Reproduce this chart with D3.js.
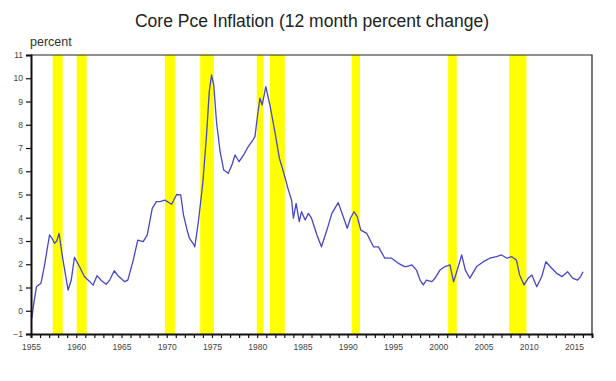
<!DOCTYPE html>
<html><head><meta charset="utf-8">
<script src="https://cdn.jsdelivr.net/npm/d3@7"></script>
<style>body{margin:0;background:#fff}svg{display:block}</style>
</head><body>
<svg id="c" width="616" height="381"></svg>
<script>
const title = "Core Pce Inflation (12 month percent change)";
const yLabel = "percent";
const yTicks = [-1,0,1,2,3,4,5,6,7,8,9,10,11];
const xTickLabels = [1955,1960,1965,1970,1975,1980,1985,1990,1995,2000,2005,2010,2015];
const recStart = [1957.4,1960.05,1969.8,1973.7,1979.95,1981.4,1990.45,2001.1,2007.85];
const recEnd   = [1958.5,1961.15,1970.9,1975.2,1980.65,1983.05,1991.35,2002.05,2009.75];
const years = [1955.0,1955.1,1955.3,1955.6,1956.1,1956.5,1957.05,1957.35,1957.6,1957.85,1958.1,1958.5,1959.1,1959.45,1959.8,1960.4,1960.9,1961.5,1961.85,1962.3,1962.8,1963.3,1963.7,1964.2,1964.7,1965.35,1965.7,1966.3,1966.8,1967.4,1967.85,1968.4,1968.85,1969.25,1969.8,1970.55,1971.1,1971.55,1971.85,1972.2,1972.5,1972.9,1973.1,1973.5,1974.0,1974.4,1974.7,1974.95,1975.2,1975.5,1975.9,1976.3,1976.8,1977.2,1977.55,1978.0,1978.5,1978.9,1979.4,1979.75,1980.0,1980.3,1980.55,1980.95,1981.4,1981.95,1982.45,1982.9,1983.45,1983.8,1984.0,1984.3,1984.65,1984.9,1985.3,1985.65,1986.0,1986.6,1987.1,1987.7,1988.25,1988.95,1989.5,1989.95,1990.3,1990.7,1991.05,1991.45,1992.1,1992.85,1993.4,1994.1,1994.85,1995.6,1996.3,1996.5,1997.1,1997.6,1998.0,1998.35,1998.7,1999.3,1999.65,2000.2,2000.75,2001.3,2001.7,2002.05,2002.6,2003.0,2003.5,2004.25,2005.0,2005.7,2006.45,2007.0,2007.6,2008.1,2008.65,2009.0,2009.5,2009.95,2010.35,2010.9,2011.45,2011.9,2012.55,2013.1,2013.7,2014.3,2014.85,2015.4,2015.75,2016.0];
const values = [-0.2,-0.3,0.3,1.03,1.18,1.97,3.26,3.1,2.9,3.0,3.33,2.26,0.89,1.32,2.3,1.87,1.47,1.25,1.1,1.51,1.29,1.14,1.32,1.72,1.47,1.25,1.32,2.18,3.04,2.97,3.26,4.4,4.69,4.69,4.76,4.58,5.0,4.98,4.12,3.55,3.12,2.9,2.75,3.83,5.55,7.56,9.42,10.14,9.71,8.13,6.84,6.05,5.91,6.27,6.7,6.41,6.7,6.99,7.27,7.49,8.28,9.14,8.85,9.64,8.85,7.7,6.56,5.98,5.19,4.76,3.98,4.62,3.83,4.26,3.9,4.19,3.98,3.26,2.75,3.47,4.19,4.65,4.05,3.55,3.98,4.26,4.05,3.47,3.33,2.75,2.75,2.26,2.26,2.04,1.9,1.9,1.97,1.75,1.32,1.11,1.32,1.25,1.4,1.75,1.9,1.97,1.25,1.68,2.4,1.75,1.4,1.9,2.11,2.26,2.33,2.4,2.26,2.33,2.18,1.54,1.11,1.4,1.54,1.03,1.47,2.11,1.83,1.61,1.47,1.68,1.4,1.32,1.47,1.68];

const svg = d3.select("#c");
const L = 31, R = 592, T = 55, B = 334;
const x = d3.scaleLinear().domain([1955, 2017]).range([L, R]);
const y = d3.scaleLinear().domain([-1, 11]).range([B, T]);

svg.append("text").attr("x", 312).attr("y", 27).attr("text-anchor", "middle")
  .attr("font-family", "Liberation Sans, Arial, sans-serif").attr("font-size", 17.5)
  .attr("fill", "#222").text(title);
svg.append("text").attr("x", 30).attr("y", 46)
  .attr("font-family", "Liberation Sans, Arial, sans-serif").attr("font-size", 12.5)
  .attr("fill", "#333").text(yLabel);

// recession bars
svg.append("g").selectAll("rect").data(recStart).join("rect")
  .attr("x", (d) => x(d)).attr("width", (d, i) => x(recEnd[i]) - x(d))
  .attr("y", T).attr("height", B - T).attr("fill", "#ffff00");

// frame top/right
svg.append("path").attr("d", `M${L},${T}H${R}V${B}`).attr("fill", "none")
  .attr("stroke", "#222").attr("stroke-width", 1.2);

// line
const line = d3.line().x((d, i) => x(years[i])).y((d) => y(d));
svg.append("path").datum(values).attr("d", line).attr("fill", "none")
  .attr("stroke", "#4646c8").attr("stroke-width", 1.3).attr("stroke-linejoin", "round");

// y axis
const ya = d3.axisLeft(y).tickValues(yTicks).tickSize(5).tickPadding(3).tickFormat(d3.format("d"));
const gy = svg.append("g").attr("transform", `translate(${L},0)`).call(ya);
gy.select(".domain").attr("stroke", "#111").attr("stroke-width", 2);
gy.selectAll(".tick line").attr("stroke", "#111").attr("stroke-width", 1.2);
gy.selectAll("text").attr("font-family", "Liberation Sans, Arial, sans-serif").attr("font-size", 8.5).attr("fill", "#444");

// x axis
const allYears = d3.range(1955, 2017);
const xa = d3.axisBottom(x).tickValues(allYears).tickSize(4).tickPadding(6)
  .tickFormat((d) => xTickLabels.includes(d) ? String(d) : "");
const gx = svg.append("g").attr("transform", `translate(0,${B})`).call(xa);
gx.select(".domain").attr("stroke", "#111").attr("stroke-width", 2);
gx.selectAll(".tick line").attr("stroke", "#111").attr("stroke-width", 1.2);
gx.selectAll("text").attr("font-family", "Liberation Sans, Arial, sans-serif").attr("font-size", 8.5).attr("fill", "#444");
</script>
</body></html>
